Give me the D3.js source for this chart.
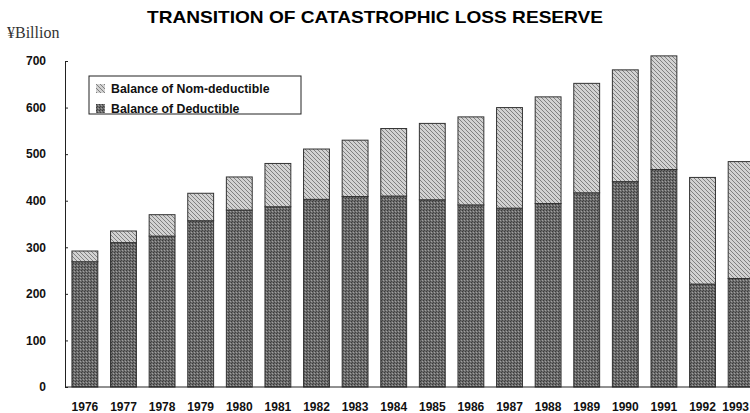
<!DOCTYPE html>
<html>
<head>
<meta charset="utf-8">
<title>Transition of catastrophic loss reserve</title>
<script src="https://cdn.jsdelivr.net/npm/d3@7"></script>
<style>
  body { margin: 0; background: #fff; }
  svg text { font-family: "Liberation Sans", Arial, sans-serif; }
</style>
</head>
<body>
<script>
// values, in ¥ billion
var years = ["1976", "1977", "1978", "1979", "1980", "1981", "1982", "1983", "1984",
             "1985", "1986", "1987", "1988", "1989", "1990", "1991", "1992", "1993"];
var deductible = [269, 310, 324, 357, 380, 387, 403, 409, 410, 402, 391, 384, 394, 417, 441, 467, 221, 233];
var nonDeductible = [23, 25, 46, 59, 71, 93, 108, 121, 145, 164, 189, 216, 229, 235, 240, 244, 229, 251];
var yTicks = [0, 100, 200, 300, 400, 500, 600, 700];
var seriesNames = ["Balance of Nom-deductible", "Balance of Deductible"];

var width = 750,
    height = 413;

var svg = d3.select("body")
    .append("svg")
    .attr("width", width)
    .attr("height", height);

// textures that mimic the printed shading
var defs = svg.append("defs");

var hatch = defs.append("pattern")
    .attr("id", "hatch")
    .attr("patternUnits", "userSpaceOnUse")
    .attr("width", 4)
    .attr("height", 4);
hatch.append("rect").attr("width", 4).attr("height", 4).attr("fill", "#d2d2d2");
hatch.append("path")
    .attr("d", "M0,0 L4,4 M-1,3 L1,5 M3,-1 L5,1")
    .attr("stroke", "#808080")
    .attr("stroke-width", 1);

var stipple = defs.append("pattern")
    .attr("id", "stipple")
    .attr("patternUnits", "userSpaceOnUse")
    .attr("width", 3)
    .attr("height", 3);
stipple.append("rect").attr("width", 3).attr("height", 3).attr("fill", "#6c6c6c");
stipple.append("rect").attr("x", 0).attr("y", 0).attr("width", 1).attr("height", 1).attr("fill", "#3a3a3a");
stipple.append("rect").attr("x", 2).attr("y", 1).attr("width", 1).attr("height", 1).attr("fill", "#a0a0a0");
stipple.append("rect").attr("x", 1).attr("y", 2).attr("width", 1).attr("height", 1).attr("fill", "#444");

var fills = ["url(#hatch)", "url(#stipple)"];

var x = d3.scaleBand()
    .domain(years)
    .range([65, 761])
    .paddingInner(0.33)
    .paddingOuter(0.18);

var y = d3.scaleLinear()
    .domain([0, 700])
    .range([387, 61]);

var rows = years.map(function (d, i) {
    return { year: d, ded: deductible[i], non: nonDeductible[i] };
});

var stack = d3.stack().keys(["ded", "non"]);
var layers = stack(rows);

// title and unit
svg.append("text")
    .attr("x", 375)
    .attr("y", 23)
    .attr("text-anchor", "middle")
    .attr("textLength", 456)
    .attr("lengthAdjust", "spacingAndGlyphs")
    .style("font-size", "17px")
    .style("font-weight", "bold")
    .text("TRANSITION OF CATASTROPHIC LOSS RESERVE");

svg.append("text")
    .attr("x", 7)
    .attr("y", 38)
    .style("font-family", "'Liberation Serif', serif")
    .style("font-size", "16px")
    .style("fill", "#333")
    .text("¥Billion");

// bars
svg.append("g")
    .selectAll("g")
    .data(layers)
    .join("g")
    .attr("fill", function (d) { return d.key === "ded" ? fills[1] : fills[0]; })
    .selectAll("rect")
    .data(function (d) { return d; })
    .join("rect")
    .attr("x", function (d) { return x(d.data.year); })
    .attr("y", function (d) { return y(d[1]); })
    .attr("width", x.bandwidth())
    .attr("height", function (d) { return y(d[0]) - y(d[1]); })
    .attr("stroke", "#333")
    .attr("stroke-width", 1);

// y axis, ticks point into the plot
var yAxis = d3.axisLeft(y)
    .tickValues(yTicks)
    .tickSizeInner(-3)
    .tickSizeOuter(0)
    .tickPadding(19);

var gy = svg.append("g")
    .attr("transform", "translate(65,0)")
    .call(yAxis);
gy.select(".domain").attr("stroke", "#222");
gy.selectAll(".tick line").attr("stroke", "#222");
gy.selectAll("text")
    .style("font-size", "12px")
    .style("font-weight", "bold")
    .attr("fill", "#111");

// x axis
var xAxis = d3.axisBottom(x)
    .tickSize(0)
    .tickPadding(15);

var gx = svg.append("g")
    .attr("transform", "translate(0,387)")
    .call(xAxis);
gx.select(".domain").attr("d", "M65,0H750").attr("stroke", "#222");
gx.selectAll("text")
    .style("font-size", "12px")
    .style("font-weight", "bold")
    .attr("fill", "#111");
// the last year sits against the right edge, as in the scan
var lastYear = years[years.length - 1];
var lastCenter = x(lastYear) + x.bandwidth() / 2;
gx.selectAll(".tick text")
    .filter(function (d) { return d === lastYear; })
    .attr("text-anchor", "end")
    .attr("x", width - 1 - lastCenter);

// legend
var legend = svg.append("g");
legend.append("rect")
    .attr("x", 89)
    .attr("y", 76)
    .attr("width", 212)
    .attr("height", 38)
    .attr("fill", "#fff")
    .attr("stroke", "#222")
    .attr("stroke-width", 1);

var items = legend.selectAll("g.item")
    .data(seriesNames)
    .join("g")
    .attr("class", "item")
    .attr("transform", function (d, i) { return "translate(96," + (84 + i * 20) + ")"; });

items.append("rect")
    .attr("width", 9)
    .attr("height", 9)
    .attr("fill", function (d, i) { return fills[i]; });

items.append("text")
    .attr("x", 15)
    .attr("y", 9)
    .style("font-size", "12.3px")
    .style("font-weight", "bold")
    .attr("fill", "#111")
    .text(function (d) { return d; });
</script>
</body>
</html>
